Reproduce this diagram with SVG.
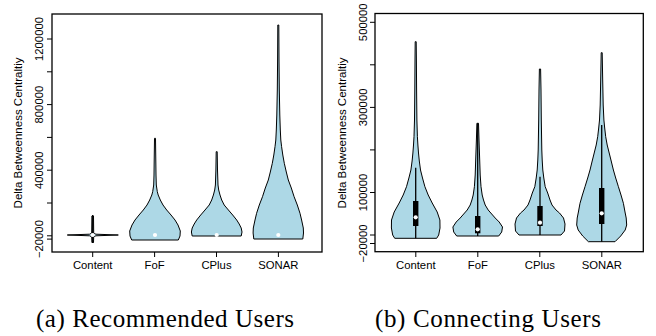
<svg xmlns="http://www.w3.org/2000/svg" width="656" height="336" viewBox="0 0 656 336">
<style>
.frame{fill:none;stroke:#000;stroke-width:1.3}
.tick{stroke:#000;stroke-width:1}
.lbl{font-family:"Liberation Sans",Arial,Helvetica,sans-serif;font-size:11.3px;fill:#000}
.ttl{font-family:"Liberation Sans",Arial,Helvetica,sans-serif;font-size:11.5px;fill:#000}
.cap{font-family:"Liberation Serif","Times New Roman",serif;font-size:25px;fill:#000}
.violin{fill:#ADD8E6;stroke:#000;stroke-width:1;stroke-linejoin:round}
.whisker{stroke:#000;stroke-width:1.3}
.box{fill:#000}
.med{fill:#fff}
</style>
<rect width="656" height="336" fill="#fff"/>

<!-- Panel (a) -->
<g id="panel-a">
  <g id="axes-a">
    <rect class="frame" x="52" y="14" width="270" height="238"/>
    <g class="tick">
      <line x1="47" y1="239.1" x2="52" y2="239.1"/>
      <line x1="47" y1="235.8" x2="52" y2="235.8"/>
      <line x1="47" y1="203" x2="52" y2="203"/>
      <line x1="47" y1="170.2" x2="52" y2="170.2"/>
      <line x1="47" y1="137.4" x2="52" y2="137.4"/>
      <line x1="47" y1="104.6" x2="52" y2="104.6"/>
      <line x1="47" y1="71.8" x2="52" y2="71.8"/>
      <line x1="47" y1="39" x2="52" y2="39"/>
      <line x1="92.7" y1="252" x2="92.7" y2="257"/>
      <line x1="154.6" y1="252" x2="154.6" y2="257"/>
      <line x1="216.5" y1="252" x2="216.5" y2="257"/>
      <line x1="278.4" y1="252" x2="278.4" y2="257"/>
    </g>
    <g class="lbl" text-anchor="middle">
      <text transform="translate(43.3,239.1) rotate(-90)">−20000</text>
      <text transform="translate(43.3,170.2) rotate(-90)">400000</text>
      <text transform="translate(43.3,104.6) rotate(-90)">800000</text>
      <text transform="translate(43.3,39) rotate(-90)">1200000</text>
      <text x="92.7" y="268.5">Content</text>
      <text x="154.6" y="268.5">FoF</text>
      <text x="216.5" y="268.5">CPlus</text>
      <text x="278.4" y="268.5">SONAR</text>
    </g>
    <text class="ttl" text-anchor="middle" transform="translate(21.8,133) rotate(-90)">Delta Betweenness Centraltiy</text>
  </g>
  <g id="a-content">
    <path class="violin" d="M67.3,235 L89.5,234.2 L91.7,233.2 L91.9,216 L93.5,216 L93.7,233.2 L95.9,234.2 L118.3,235 L95.9,235.8 L93.7,236.8 L93.5,242.5 L91.9,242.5 L91.7,236.8 L89.5,235.8 Z"/>
    <line class="whisker" x1="92.7" y1="215" x2="92.7" y2="243" stroke-width="1.8"/>
    <circle class="med" cx="92.7" cy="235" r="2.1"/>
  </g>
  <g id="a-fof">
    <path class="violin" d="M178.3,240 L180,236 L180.3,231 L178,225 L175,220 L171,215 L166.7,210 L163,205 L160.3,200 L158.2,195 L157.3,191.7 L156.3,185 L156,175 L155.8,160 L155.5,138.3 L154.5,138.3 L154.2,160 L154,175 L153.7,185 L152.7,191.7 L151.8,195 L149.7,200 L147,205 L143.3,210 L139,215 L135,220 L132,225 L129.7,231 L130,236 L131.7,240 Z"/>
    <circle class="med" cx="155" cy="235" r="2.1"/>
  </g>
  <g id="a-cplus">
    <path class="violin" d="M241.2,236 L242,232 L241.2,228 L239.2,224 L236.7,220 L232.7,215 L228.4,210 L224.2,205 L221.7,200 L220,195 L218.7,190 L218,185 L217.5,170 L217.2,151.7 L216.2,151.7 L215.9,170 L215.4,185 L214.7,190 L213.4,195 L211.7,200 L209.2,205 L205,210 L200.7,215 L196.7,220 L194.2,224 L192.2,228 L191.4,232 L192.2,236 Z"/>
    <circle class="med" cx="216.7" cy="235" r="2.1"/>
  </g>
  <g id="a-sonar">
    <path class="violin" d="M302.8,239 L303.5,233 L303.3,228 L301.6,220 L300,213.3 L297.3,205 L294.1,196.7 L291.3,188 L288.3,180 L286.3,172 L284.3,163.3 L282.8,155 L281.6,146.7 L280.8,140 L280.3,130 L279.8,115 L279.3,90 L279,60 L278.8,25 L277.8,25 L277.6,60 L277.3,90 L276.8,115 L276.3,130 L275.8,140 L275,146.7 L273.8,155 L272.3,163.3 L270.3,172 L268.3,180 L265.3,188 L262.5,196.7 L259.3,205 L256.6,213.3 L255,220 L253.3,228 L253.1,233 L253.8,239 Z"/>
    <circle class="med" cx="278.3" cy="235" r="2.1"/>
  </g>
</g>

<!-- Panel (b) -->
<g id="panel-b">
  <g id="axes-b">
    <rect class="frame" x="375" y="13.5" width="268.3" height="238.2"/>
    <g class="tick">
      <line x1="370" y1="243.5" x2="375" y2="243.5"/>
      <line x1="370" y1="235" x2="375" y2="235"/>
      <line x1="370" y1="192.5" x2="375" y2="192.5"/>
      <line x1="370" y1="149.9" x2="375" y2="149.9"/>
      <line x1="370" y1="107.4" x2="375" y2="107.4"/>
      <line x1="370" y1="64.8" x2="375" y2="64.8"/>
      <line x1="370" y1="22.3" x2="375" y2="22.3"/>
      <line x1="415.8" y1="251.7" x2="415.8" y2="257"/>
      <line x1="477.8" y1="251.7" x2="477.8" y2="257"/>
      <line x1="539.8" y1="251.7" x2="539.8" y2="257"/>
      <line x1="601.8" y1="251.7" x2="601.8" y2="257"/>
    </g>
    <g class="lbl" text-anchor="middle">
      <text transform="translate(366.7,243.5) rotate(-90)">−20000</text>
      <text transform="translate(366.7,192.5) rotate(-90)">100000</text>
      <text transform="translate(366.7,107.4) rotate(-90)">300000</text>
      <text transform="translate(366.7,22.3) rotate(-90)">500000</text>
      <text x="415.8" y="268.5">Content</text>
      <text x="477.8" y="268.5">FoF</text>
      <text x="539.8" y="268.5">CPlus</text>
      <text x="601.8" y="268.5">SONAR</text>
    </g>
    <text class="ttl" text-anchor="middle" transform="translate(346.3,133) rotate(-90)">Delta Betweenness Centraltiy</text>
  </g>
  <g id="b-content">
    <path class="violin" d="M436.7,238.3 L438.7,235 L440,228 L439.9,220 L437.2,212 L432.2,203 L428.2,195 L424.9,186.7 L422.5,178 L420.5,170 L419.3,161 L418.5,153 L417.9,145 L417.4,136.7 L416.9,120 L416.6,90 L416.4,60 L416.2,41.7 L415.2,41.7 L415,60 L414.8,90 L414.5,120 L414,136.7 L413.5,145 L412.9,153 L412.1,161 L410.9,170 L408.9,178 L406.5,186.7 L403.2,195 L399.2,203 L394.2,212 L391.5,220 L391.4,228 L392.7,235 L394.7,238.3 Z"/>
    <line class="whisker" x1="415.7" y1="167.7" x2="415.7" y2="238.3"/>
    <rect class="box" x="413" y="201" width="5.4" height="25"/>
    <circle class="med" cx="415.7" cy="217.3" r="2.1"/>
  </g>
  <g id="b-fof">
    <path class="violin" d="M498.7,236 L501.7,232 L502.5,227 L499.2,222 L495.2,218 L491.7,214 L488.2,210 L485.2,205 L483.5,200 L482.2,195 L481,186.7 L480.2,175 L479.7,160 L479,140 L478.5,123.3 L476.9,123.3 L476.4,140 L475.7,160 L475.2,175 L474.4,186.7 L473.2,195 L471.9,200 L470.2,205 L467.2,210 L463.7,214 L460.2,218 L456.2,222 L452.9,227 L453.7,232 L456.7,236 Z"/>
    <line class="whisker" x1="477.7" y1="123.3" x2="477.7" y2="236" stroke-width="1.6"/>
    <rect class="box" x="475" y="216" width="5.4" height="17.3"/>
    <circle class="med" cx="477.7" cy="229.3" r="2.1"/>
  </g>
  <g id="b-cplus">
    <path class="violin" d="M561,235 L564.5,231 L565,224 L563.5,218 L559.5,213 L556,210 L552,205 L550,200 L547.7,193 L545.2,186.7 L543.8,178 L542.8,170 L542.2,160 L541.8,150 L541.3,120 L541,90 L540.6,69 L539.4,69 L539,90 L538.7,120 L538.2,150 L537.8,160 L537.2,170 L536.2,178 L534.8,186.7 L532.3,193 L530,200 L528,205 L524,210 L520.5,213 L516.5,218 L515,224 L515.5,231 L519,235 Z"/>
    <line class="whisker" x1="540" y1="176.7" x2="540" y2="235"/>
    <rect class="box" x="537.3" y="206" width="5.4" height="20"/>
    <circle class="med" cx="540" cy="222.7" r="2.1"/>
  </g>
  <g id="b-sonar">
    <path class="violin" d="M615,241.7 L620.7,236 L625.2,230 L626.7,225 L626.2,218 L625,212 L623.4,203.3 L621,195 L618.4,186.7 L615.7,178 L613.4,170 L611.2,161 L609.2,153 L607.2,145 L605.7,136.7 L604.7,128 L603.9,120 L603.2,105 L602.7,80 L602.2,52.7 L601.2,52.7 L600.7,80 L600.2,105 L599.5,120 L598.7,128 L597.7,136.7 L596.2,145 L594.2,153 L592.2,161 L590,170 L587.7,178 L585,186.7 L582.4,195 L580,203.3 L578.4,212 L577.2,218 L576.7,225 L578.2,230 L582.7,236 L588.4,241.7 Z"/>
    <line class="whisker" x1="601.7" y1="125" x2="601.7" y2="241.7"/>
    <rect class="box" x="599" y="188" width="5.4" height="36"/>
    <circle class="med" cx="601.7" cy="213.3" r="2.1"/>
  </g>
</g>

<g id="captions" class="cap" text-anchor="middle">
  <text x="165" y="327" textLength="258" lengthAdjust="spacing">(a) Recommended Users</text>
  <text x="488" y="327" textLength="226" lengthAdjust="spacing">(b) Connecting Users</text>
</g>
</svg>
